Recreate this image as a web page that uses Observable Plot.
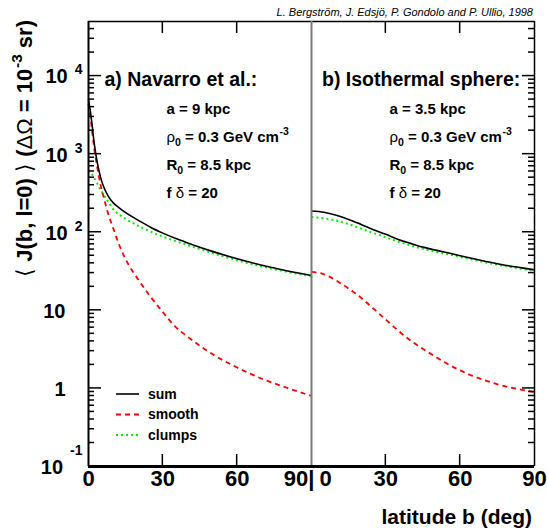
<!DOCTYPE html>
<html><head><meta charset="utf-8">
<script src="https://cdn.jsdelivr.net/npm/d3@7"></script>
<script src="https://cdn.jsdelivr.net/npm/@observablehq/plot@0.6"></script>
<style>
html,body{margin:0;padding:0;background:#fff;}
#chart svg{display:block;}
</style></head><body><div id="chart"></div>
<script>
// ---------- data ----------
const panels = ["a", "b"];
const bNav = [0, 0.5, 1, 1.5, 2, 3, 4, 5, 6, 8, 10, 12, 15, 20, 25, 30, 35, 40, 50, 60, 70, 80, 90];
const sumNav = [5000, 4000, 3100, 2300, 1650, 980, 660, 490, 390, 288, 238, 210, 178, 143, 116, 97.5, 83.6, 73, 56.9, 45.7, 37.8, 32.2, 28];
const smoothNav = [4400, 3500, 2600, 1900, 1400, 850, 560, 390, 290, 170, 112, 74, 45, 25, 15, 9.5, 6.2, 4.6, 2.75, 1.85, 1.33, 1.02, 0.80];
const clumpsNav = [620, 600, 575, 545, 515, 455, 395, 345, 305, 245, 196, 172, 148, 121, 102, 88, 77.5, 68.5, 54.2, 43.8, 36.5, 31.2, 27.3];
const bIso = [0, 5, 10, 15, 20, 25, 30, 35, 40, 45, 50, 55, 60, 65, 70, 75, 80, 85, 90];
const sumIso = [187, 180, 165, 146, 126, 108, 94, 81, 72, 64.5, 59, 54.5, 50, 46, 42.5, 39.5, 37, 35, 33];
const smoothIso = [31, 29, 24, 19, 14.5, 10.5, 7.6, 5.5, 4.1, 3.2, 2.55, 2.05, 1.7, 1.45, 1.27, 1.13, 1.03, 0.96, 0.9];
const clumpsIso = [156, 151, 141, 127, 111.5, 97.5, 86.4, 75.5, 67.9, 61.3, 56.5, 52.5, 48.3, 44.6, 41.2, 38.4, 36, 34, 32.1];
const seriesNames = ["sum", "smooth", "clumps"];
const xTickVals = [0, 30, 60, 90];
const xInnerTicks = [30, 60];
const yTickVals = [0.1, 1, 10, 100, 1000, 10000];
const yTickLabels = ["10^{-1}", "1", "10", "10^{2}", "10^{3}", "10^{4}"];
const yDomain = [0.1, 5e4];
const xDomain = [0, 90];
const panelTitles = ["a) Navarro et al.:", "b) Isothermal sphere:"];
const paramsNav = ["a = 9 kpc", "ρ_{0} = 0.3 GeV cm^{-3}", "R_{0} = 8.5 kpc", "f δ = 20"];
const paramsIso = ["a = 3.5 kpc", "ρ_{0} = 0.3 GeV cm^{-3}", "R_{0} = 8.5 kpc", "f δ = 20"];
const yTitle = "⟨ J(b, l=0) ⟩ (ΔΩ = 10^{-3} sr)";
const xTitle = "latitude b (deg)";
const credit = "L. Bergström, J. Edsjö, P. Gondolo and P. Ullio, 1998";

// ---------- layout ----------
const W = 548, H = 531, MT = 21, MR = 14, MB = 65, ML = 87;

// ---------- tables ----------
const curves = [];
function addSeries(panel, bs, vs, series) { bs.forEach((b, i) => curves.push({panel, b, v: vs[i], series})); }
addSeries("a", bNav, sumNav, "sum");
addSeries("a", bNav, smoothNav, "smooth");
addSeries("a", bNav, clumpsNav, "clumps");
addSeries("b", bIso, sumIso, "sum");
addSeries("b", bIso, smoothIso, "smooth");
addSeries("b", bIso, clumpsIso, "clumps");

const minorY = [];
for (let e = -1; e <= 4; e++) for (let k = 2; k <= 9; k++) { const v = +(k * 10 ** e).toPrecision(3); if (v < yDomain[1]) minorY.push(v); }

const xLabelRows = panels.flatMap(p => xTickVals.map(v => ({panel: p, b: v, label: String(v)})));
const isJoinLeft = d => d.panel === "a" && d.b === xTickVals[xTickVals.length - 1];
const isJoinRight = d => d.panel === "b" && d.b === xTickVals[0];
const yLabelRows = yTickVals.map((v, i) => ({panel: "a", v, label: yTickLabels[i]}));
const titleRows = panels.map((p, i) => ({panel: p, t: panelTitles[i]}));
const paramRows = [
  ...paramsNav.map((t, i) => ({panel: "a", row: i, t})),
  ...paramsIso.map((t, i) => ({panel: "b", row: i, t}))
];
const edgeRows = {
  left: [{panel: "a", b: xDomain[0]}],
  divider: [{panel: "b", b: xDomain[0]}],
  right: [{panel: "b", b: xDomain[1]}]
};

const FONT = "'Liberation Sans', Arial, Helvetica, sans-serif";
const colors = {sum: "#000000", smooth: "#ff0000", clumps: "#00ee00"};
const lineOpts = {fx: "panel", x: "b", y: "v", curve: "monotone-x", strokeLinecap: "butt"};

const plot = Plot.plot({
  width: W, height: H,
  marginTop: MT, marginRight: MR, marginBottom: MB, marginLeft: ML,
  style: {fontFamily: FONT, background: "#fff", color: "#000"},
  fx: {domain: panels, padding: 0, axis: null, label: null},
  x: {domain: xDomain, axis: null, label: null},
  y: {type: "log", domain: yDomain, axis: null, label: null},
  marks: [
    // curves
    Plot.line(curves, {...lineOpts, filter: d => d.series === "clumps", stroke: colors.clumps, strokeWidth: 2, strokeDasharray: "2,3"}),
    Plot.line(curves, {...lineOpts, filter: d => d.series === "smooth", stroke: colors.smooth, strokeWidth: 1.8, strokeDasharray: "5,4"}),
    Plot.line(curves, {...lineOpts, filter: d => d.series === "sum", stroke: colors.sum, strokeWidth: 1.6}),
    // frame
    Plot.ruleY([yDomain[1]], {stroke: "#000", strokeWidth: 1.5}),
    Plot.ruleX(edgeRows.right, {fx: "panel", x: "b", stroke: "#000", strokeWidth: 1.5}),
    Plot.ruleX(edgeRows.divider, {fx: "panel", x: "b", stroke: "#7a7a7a", strokeWidth: 2}),
    Plot.ruleX(edgeRows.left, {fx: "panel", x: "b", stroke: "#000", strokeWidth: 2}),
    Plot.ruleY([yDomain[0]], {stroke: "#000", strokeWidth: 3}),
    // x tick labels
    Plot.text(xLabelRows, {filter: d => !isJoinLeft(d) && !isJoinRight(d), fx: "panel", x: "b", text: "label", frameAnchor: "bottom", dy: 19, fontSize: 22, fontWeight: "bold"}),
    Plot.text(xLabelRows, {filter: isJoinLeft, fx: "panel", x: "b", text: d => d.label + "|", frameAnchor: "bottom", dy: 19, dx: 3, textAnchor: "end", fontSize: 22, fontWeight: "bold"}),
    Plot.text(xLabelRows, {filter: isJoinRight, fx: "panel", x: "b", text: "label", frameAnchor: "bottom", dy: 19, dx: 8, textAnchor: "start", fontSize: 22, fontWeight: "bold"}),
    // y tick labels
    Plot.text(yLabelRows, {filter: d => d.label.includes("^"), fx: "panel", y: "v", text: "label", frameAnchor: "left", dx: -6, dy: 1, textAnchor: "end", fontSize: 20, fontWeight: "bold"}),
    Plot.text(yLabelRows, {filter: d => !d.label.includes("^"), fx: "panel", y: "v", text: "label", frameAnchor: "left", dx: -23, dy: 1, textAnchor: "end", fontSize: 20, fontWeight: "bold"}),
    // panel titles & parameters
    Plot.text(titleRows, {filter: d => d.panel === "a", fx: "panel", text: "t", frameAnchor: "top-left", dx: 16, dy: 51, textAnchor: "start", fontSize: 19.5, fontWeight: "bold"}),
    Plot.text(titleRows, {filter: d => d.panel === "b", fx: "panel", text: "t", frameAnchor: "top-left", dx: 10.5, dy: 51, textAnchor: "start", fontSize: 19.5, fontWeight: "bold"}),
    ...paramsNav.map((_, i) => Plot.text(paramRows, {filter: r => r.row === i, fx: "panel", text: "t", frameAnchor: "top-left", dx: 78, dy: 82 + 28 * i, textAnchor: "start", fontSize: 15, fontWeight: "bold"}))
  ]
});

document.getElementById("chart").appendChild(plot);
const svg = d3.select(plot);
const SVGNS = "http://www.w3.org/2000/svg";

// ---------- inward frame ticks, positioned with Plot's own scales ----------
const sx = plot.scale("x"), sy = plot.scale("y"), sfx = plot.scale("fx");
const facetOffset = p => sfx.apply(p) - ML;
const px = (p, v) => sx.apply(v) + facetOffset(p);
const leftX = px(panels[0], xDomain[0]);
const rightX = px(panels[panels.length - 1], xDomain[1]);
const bottomY = sy.apply(yDomain[0]), topY = sy.apply(yDomain[1]);
const ticksG = svg.append("g").attr("stroke", "#000").attr("stroke-width", 1.5);
const tickLine = (x1, y1, x2, y2) => ticksG.append("line").attr("x1", x1).attr("y1", y1).attr("x2", x2).attr("y2", y2);
yTickVals.forEach(v => { const y = sy.apply(v); tickLine(leftX, y, leftX + 13, y); tickLine(rightX - 12, y, rightX, y); });
minorY.forEach(v => { const y = sy.apply(v); tickLine(leftX, y, leftX + 6, y); tickLine(rightX - 6, y, rightX, y); });
panels.forEach(p => xInnerTicks.forEach(v => {
  const x = px(p, v);
  tickLine(x, bottomY - 12, x, bottomY);
  tickLine(x, topY, x, topY + 12);
}));

// legend (bottom-left of panel a)
const legend = svg.append("g").attr("font-family", FONT).attr("text-anchor", "start");
seriesNames.forEach((s, i) => {
  const y = 394 + 20.5 * i;
  legend.append("line").attr("x1", 116).attr("x2", 139).attr("y1", y).attr("y2", y)
    .attr("stroke", colors[s]).attr("stroke-width", s === "sum" ? 1.6 : 2)
    .attr("stroke-dasharray", s === "smooth" ? "5,4" : s === "clumps" ? "2,3" : null);
  legend.append("text").attr("x", 148).attr("y", y).attr("dy", "0.35em").attr("text-anchor", "start")
    .attr("font-size", 14).attr("font-weight", "bold").text(s);
});

// titles and credit
svg.append("text").attr("x", 533).attr("y", 16).attr("text-anchor", "end")
  .attr("font-family", FONT).attr("font-style", "italic").attr("font-size", 11).text(credit);
svg.append("text").attr("x", 532).attr("y", 524).attr("text-anchor", "end")
  .attr("font-family", FONT).attr("font-weight", "bold").attr("font-size", 21).text(xTitle);
svg.append("text").attr("transform", "translate(32,20) rotate(-90)").attr("text-anchor", "end")
  .attr("font-family", FONT).attr("font-weight", "bold").attr("font-size", 22).text(yTitle);

// rich text: superscripts, subscripts, thin greek
const GREEK = /([ρδΔΩ⟨⟩])/;
function richify(el) {
  const s = el.textContent;
  if (!/[\^_]\{/.test(s) && !GREEK.test(s)) return;
  const fs = parseFloat(getComputedStyle(el).fontSize) || 12;
  const isTick = /^10\^\{/.test(s);
  const supDx = isTick ? 0.35 * fs : 0.04 * fs;
  const supRaise = isTick && /\^\{-/.test(s) ? 0.95 * fs : 0.45 * fs;
  const segs = []; const re = /([\^_])\{([^}]*)\}/g; let last = 0, m;
  while ((m = re.exec(s))) {
    if (m.index > last) segs.push({t: s.slice(last, m.index), k: ""});
    segs.push({t: m[2], k: m[1]}); last = re.lastIndex;
  }
  if (last < s.length) segs.push({t: s.slice(last), k: ""});
  el.textContent = "";
  let shift = 0;
  for (const sg of segs) {
    const target = sg.k === "^" ? -supRaise : sg.k === "_" ? 0.25 * fs : 0;
    const pieces = sg.t.split(GREEK).filter(p => p !== "");
    pieces.forEach((p, j) => {
      const ts = document.createElementNS(SVGNS, "tspan");
      if (j === 0) {
        if (target !== shift) ts.setAttribute("dy", target - shift);
        if (sg.k === "^") ts.setAttribute("dx", supDx);
      }
      if (sg.k) ts.setAttribute("font-size", 0.7 * fs);
      if (GREEK.test(p)) ts.setAttribute("font-weight", "normal");
      ts.textContent = p;
      el.appendChild(ts);
    });
    shift = target;
  }
}
plot.querySelectorAll("text").forEach(richify);
</script></body></html>
